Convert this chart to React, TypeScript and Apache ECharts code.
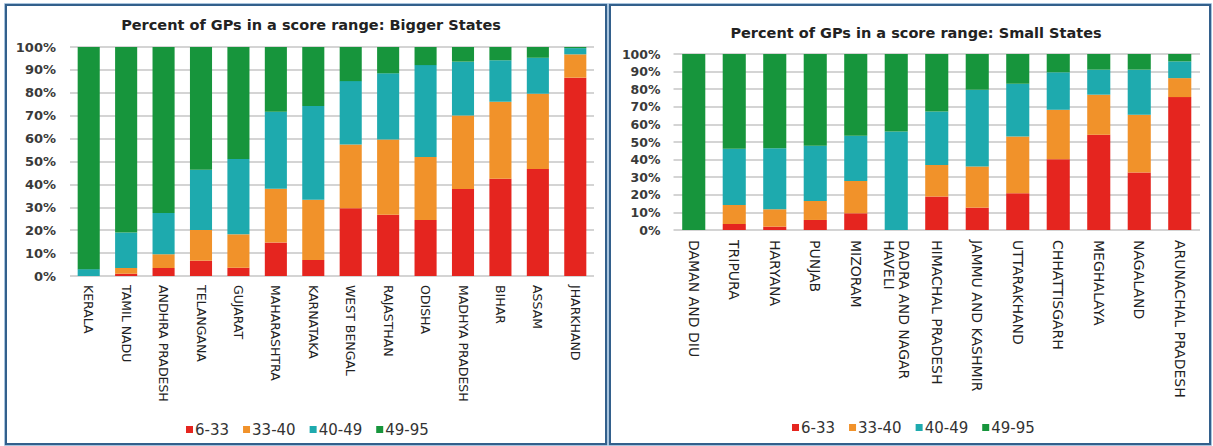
import React, { useEffect, useRef } from "react";
import * as echarts from "echarts";

const seriesNames = ["6-33", "33-40", "40-49", "49-95"];
const colors = ["#e5251f", "#f1922a", "#1eaaae", "#17953c"];
const yTicks = [0, 10, 20, 30, 40, 50, 60, 70, 80, 90, 100];

const bigStates = [
  "KERALA", "TAMIL NADU", "ANDHRA PRADESH", "TELANGANA", "GUJARAT", "MAHARASHTRA", "KARNATAKA",
  "WEST BENGAL", "RAJASTHAN", "ODISHA", "MADHYA PRADESH", "BIHAR", "ASSAM", "JHARKHAND",
];
const big6to33 = [0, 1, 3.5, 6.7, 3.6, 14.6, 7, 29.6, 26.7, 24.5, 38, 42.5, 46.7, 86.6];
const big33to40 = [0, 2.5, 6, 13.4, 14.6, 23.5, 26.3, 27.8, 32.9, 27.5, 32.1, 33.6, 32.9, 10.2];
const big40to49 = [3, 15.5, 18, 26.3, 32.9, 33.6, 40.9, 27.7, 28.9, 40.1, 23.5, 18.1, 15.7, 2.7];
const big49to95 = [97, 81, 72.5, 53.6, 48.9, 28.3, 25.8, 14.9, 11.5, 7.9, 6.4, 5.8, 4.7, 0.5];

const smallStates = [
  "DAMAN AND DIU", "TRIPURA", "HARYANA", "PUNJAB", "MIZORAM", "DADRA AND NAGAR\nHAVELI",
  "HIMACHAL PRADESH", "JAMMU AND KASHMIR", "UTTARAKHAND", "CHHATTISGARH", "MEGHALAYA",
  "NAGALAND", "ARUNACHAL PRADESH",
];
const small6to33 = [0, 3.4, 1.9, 5.7, 9.5, 0, 19, 12.7, 20.9, 40.2, 54.1, 32.6, 75.5];
const small33to40 = [0, 10.8, 9.9, 10.8, 18.4, 0, 18, 23.4, 32.2, 28.1, 22.8, 32.9, 10.8];
const small40to49 = [0, 31.9, 34.7, 31.3, 25.6, 56, 30.4, 43.6, 30, 21.3, 14.2, 25.6, 9.5];
const small49to95 = [100, 53.9, 53.5, 52.2, 46.5, 44, 32.6, 20.3, 16.9, 10.4, 8.9, 8.9, 4.2];

const bigData = [big6to33, big33to40, big40to49, big49to95];
const smallData = [small6to33, small33to40, small40to49, small49to95];

const FONT = "DejaVu Sans";

function yAxis(gridIndex: number, fontSize: number, margin: number) {
  return {
    type: "value",
    gridIndex,
    min: yTicks[0],
    max: yTicks[yTicks.length - 1],
    interval: 10,
    axisLine: { show: false },
    axisTick: { show: false },
    axisLabel: {
      formatter: "{value}%",
      fontFamily: FONT,
      fontWeight: "bold",
      fontSize,
      color: "#3a3a3a",
      margin,
    },
    splitLine: { lineStyle: { color: "#c6c6c6", width: 1.5 } },
  };
}

function xAxis(gridIndex: number, data: string[], fontSize: number, margin: number) {
  return {
    type: "category",
    gridIndex,
    data,
    axisLine: { show: false },
    axisTick: { show: false },
    axisLabel: {
      rotate: -90,
      interval: 0,
      fontFamily: FONT,
      fontSize,
      color: "#222",
      margin,
      lineHeight: fontSize + 1,
    },
  };
}

function panelBorder(x: number, y: number, w: number, h: number) {
  return [
    {
      type: "rect",
      shape: { x: x - 1.5, y: y - 1.5, width: w + 3, height: h + 3 },
      style: { fill: "none", stroke: "#a8c4de", lineWidth: 1 },
      silent: true,
    },
    {
      type: "rect",
      shape: { x, y, width: w, height: h },
      style: { fill: "none", stroke: "#33608c", lineWidth: 2 },
      silent: true,
    },
  ];
}

export default function App() {
  const ref = useRef<HTMLDivElement>(null);

  useEffect(() => {
    if (!ref.current) return;
    const chart = echarts.init(ref.current, null, { renderer: "svg" });

    const series: any[] = [];
    seriesNames.forEach((name, i) => {
      series.push({
        name,
        type: "bar",
        stack: "big",
        xAxisIndex: 0,
        yAxisIndex: 0,
        data: bigData[i],
        barWidth: "59%",
        itemStyle: { color: colors[i] },
      });
    });
    seriesNames.forEach((name, i) => {
      series.push({
        name,
        type: "bar",
        stack: "small",
        xAxisIndex: 1,
        yAxisIndex: 1,
        data: smallData[i],
        barWidth: "57%",
        itemStyle: { color: colors[i] },
      });
    });

    const legendCommon = {
      data: seriesNames,
      icon: "rect",
      itemWidth: 7,
      itemHeight: 7,
      itemGap: 14,
      textStyle: { fontFamily: FONT, fontSize: 15, color: "#333", padding: [0, 0, 0, -3] },
    };

    chart.setOption({
      animation: false,
      backgroundColor: "#ffffff",
      title: [
        {
          text: "Percent of GPs in a score range: Bigger States",
          left: 306,
          textAlign: "center",
          top: 12,
          textStyle: { fontFamily: FONT, fontWeight: "bold", fontSize: 14.5, color: "#222" },
        },
        {
          text: "Percent of GPs in a score range: Small States",
          left: 911,
          textAlign: "center",
          top: 20,
          textStyle: { fontFamily: FONT, fontWeight: "bold", fontSize: 14.5, color: "#222" },
        },
      ],
      legend: [
        { ...legendCommon, left: 181, top: 417 },
        { ...legendCommon, left: 787, top: 415 },
      ],
      grid: [
        { left: 70, top: 47, width: 524, height: 229 },
        { left: 673.5, top: 54, width: 526.5, height: 176 },
      ],
      xAxis: [xAxis(0, bigStates, 12.5, 9), xAxis(1, smallStates, 14, 10)],
      yAxis: [yAxis(0, 13, 14), yAxis(1, 12.5, 13)],
      series,
      graphic: [...panelBorder(6, 5, 600, 439), ...panelBorder(610, 5, 600, 439)],
    });

    return () => chart.dispose();
  }, []);

  return (
    <div
      ref={ref}
      style={{ position: "absolute", left: 0, top: 0, width: 1213, height: 446 }}
    />
  );
}
